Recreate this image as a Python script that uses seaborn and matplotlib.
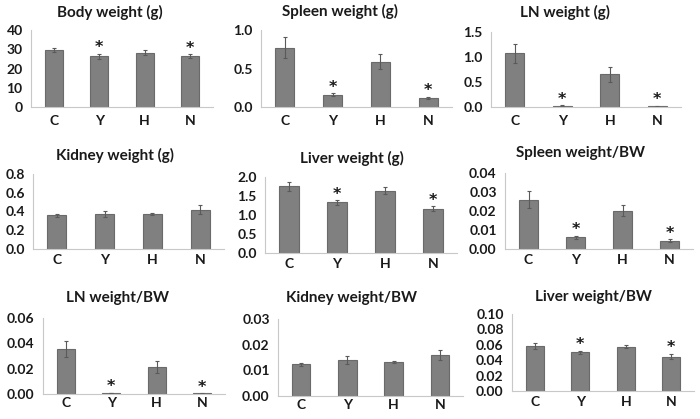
import matplotlib
matplotlib.use("Agg")
import matplotlib.pyplot as plt
import seaborn as sns
import numpy as np
import pandas as pd

sns.set_style("white")
plt.rcParams['font.family'] = ['Lato', 'DejaVu Sans']
plt.rcParams['font.weight'] = 'bold'

groups = ["C", "Y", "H", "N"]

titles = ["Body weight (g)", "Spleen weight (g)", "LN weight (g)",
          "Kidney weight (g)", "Liver weight (g)", "Spleen weight/BW",
          "LN weight/BW", "Kidney weight/BW", "Liver weight/BW"]

body_mean = [29.6, 26.4, 28.3, 26.4]
body_err = [0.8, 1.3, 1.2, 0.9]
spleen_mean = [0.77, 0.16, 0.59, 0.12]
spleen_err = [0.14, 0.02, 0.10, 0.015]
ln_mean = [1.07, 0.025, 0.65, 0.015]
ln_err = [0.19, 0.01, 0.15, 0.006]
kidney_mean = [0.36, 0.37, 0.37, 0.42]
kidney_err = [0.015, 0.03, 0.012, 0.05]
liver_mean = [1.75, 1.33, 1.64, 1.17]
liver_err = [0.12, 0.06, 0.10, 0.06]
spleen_bw_mean = [0.0260, 0.0062, 0.0202, 0.0044]
spleen_bw_err = [0.0046, 0.0009, 0.0028, 0.0006]
ln_bw_mean = [0.0356, 0.0008, 0.0213, 0.0004]
ln_bw_err = [0.0063, 0.0003, 0.0048, 0.0002]
kidney_bw_mean = [0.0124, 0.0141, 0.0132, 0.0160]
kidney_bw_err = [0.0006, 0.0016, 0.0004, 0.0021]
liver_bw_mean = [0.0587, 0.0502, 0.0574, 0.0448]
liver_bw_err = [0.0038, 0.0022, 0.0022, 0.0033]

sig_groups = [["Y", "N"], ["Y", "N"], ["Y", "N"], [], ["Y", "N"], ["Y", "N"],
              ["Y", "N"], [], ["Y", "N"]]

y_ticks = [[0, 10, 20, 30, 40], [0.0, 0.5, 1.0], [0.0, 0.5, 1.0, 1.5],
           [0.0, 0.2, 0.4, 0.6, 0.8], [0.0, 0.5, 1.0, 1.5, 2.0],
           [0.00, 0.01, 0.02, 0.03, 0.04], [0.00, 0.02, 0.04, 0.06],
           [0.00, 0.01, 0.02, 0.03], [0.00, 0.02, 0.04, 0.06, 0.08, 0.10]]
y_fmt = ["{:.0f}", "{:.1f}", "{:.1f}", "{:.1f}", "{:.1f}", "{:.2f}", "{:.2f}", "{:.2f}", "{:.2f}"]

means = [body_mean, spleen_mean, ln_mean, kidney_mean, liver_mean,
         spleen_bw_mean, ln_bw_mean, kidney_bw_mean, liver_bw_mean]
errs = [body_err, spleen_err, ln_err, kidney_err, liver_err,
        spleen_bw_err, ln_bw_err, kidney_bw_err, liver_bw_err]

# layout in pixels: (left, right, y_zero, y_top)
boxes = [(31, 213, 107, 30), (261, 452, 107, 30), (491, 681, 107, 32),
         (33, 224, 249, 174), (265, 457, 253, 177), (505, 693, 249, 173),
         (43, 225, 394, 318), (278, 463, 396, 319), (512, 694, 391, 314)]
title_pos = [(110, 12), (340, 11), (565, 12),
             (115, 155), (352, 158), (580, 153),
             (118, 298), (352, 298), (593, 297)]
xpad = [6, 6, 6, 3.5, 3.5, 3.5, 2.5, 2.5, 3.5]

W, H = 700, 419
fig = plt.figure(figsize=(W / 100, H / 100), dpi=100)

bar_color = "#808080"
spine_color = "#c8c8c8"

for i in range(9):
    L, R, y0, yt = boxes[i]
    ax = fig.add_axes([L / W, (H - y0) / H, (R - L) / W, (y0 - yt) / H])
    df = pd.DataFrame({"group": groups, "value": means[i]})
    sns.barplot(data=df, x="group", y="value", ax=ax, color=bar_color,
                width=0.4, saturation=1, edgecolor="#6a6a6a", linewidth=0.8,
                errorbar=None)
    ax.errorbar(np.arange(4), means[i], yerr=errs[i], fmt="none",
                ecolor="#5a5a5a", elinewidth=0.8, capsize=1.5, capthick=0.8)
    ymax = y_ticks[i][-1]
    ax.set_ylim(0, ymax)
    ax.set_xlim(-0.5, 3.5)
    ax.set_yticks(y_ticks[i])
    ax.set_yticklabels([y_fmt[i].format(v) for v in y_ticks[i]],
                       fontsize=10, fontweight="bold", color="#1a1a1a")
    ax.set_xticks(range(4))
    ax.set_xticklabels(groups, fontsize=10, fontweight="bold", color="#1a1a1a")
    ax.set_xticks(np.arange(-0.5, 4.0, 1.0), minor=True)
    ax.tick_params(axis="x", which="major", length=0, pad=xpad[i])
    ax.tick_params(axis="x", which="minor", length=3, color=spine_color, width=0.8)
    ax.tick_params(axis="y", which="major", length=3, color=spine_color, width=0.8, pad=3)
    ax.set_xlabel("")
    ax.set_ylabel("")
    for s in ["top", "right"]:
        ax.spines[s].set_visible(False)
    for s in ["left", "bottom"]:
        ax.spines[s].set_color(spine_color)
        ax.spines[s].set_linewidth(0.8)
    ax.patch.set_alpha(0)
    for g in sig_groups[i]:
        k = groups.index(g)
        ax.annotate("*", (k, means[i][k] + errs[i][k]), xytext=(0, -1.0),
                    textcoords="offset points", ha="center", va="bottom",
                    fontsize=11.5, fontweight="bold", color="#1a1a1a",
                    family="DejaVu Sans", annotation_clip=False)
    tx, ty = title_pos[i]
    fig.text(tx / W, 1 - ty / H, titles[i], ha="center", va="center",
             fontsize=11, fontweight="bold", color="#1a1a1a")

fig.savefig("out.png", dpi=100, facecolor="white")
